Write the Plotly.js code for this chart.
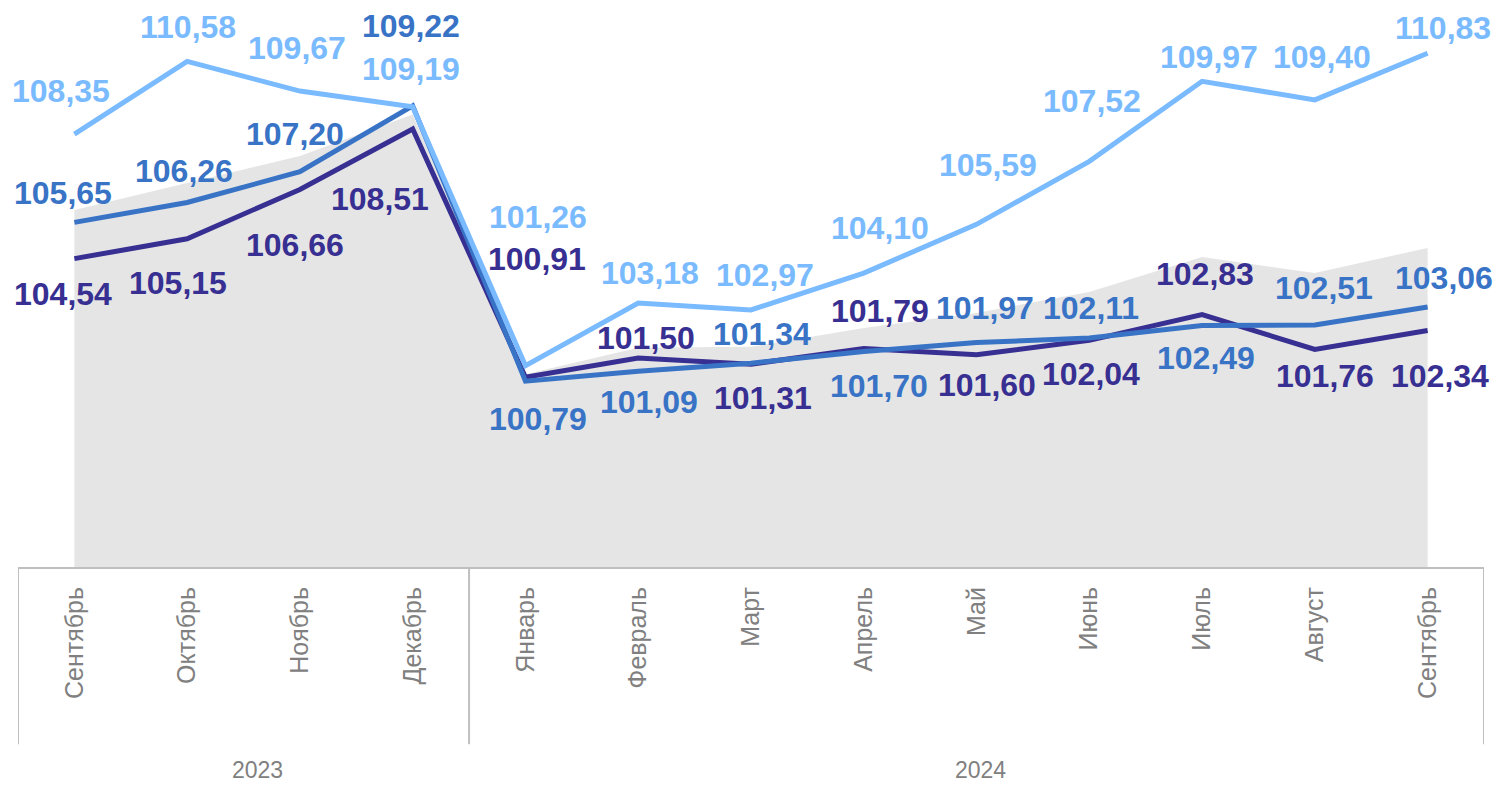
<!DOCTYPE html>
<html>
<head>
<meta charset="utf-8">
<script src="https://cdn.plot.ly/plotly-3.0.1.min.js"></script>
<style>
  html, body { margin: 0; padding: 0; background: #fff; }
  #chart { width: 1498px; height: 788px; }
</style>
</head>
<body>
<div id="chart"></div>
<script>
// ---- Data ----
const months = ["Сентябрь", "Октябрь", "Ноябрь", "Декабрь", "Январь", "Февраль", "Март",
                "Апрель", "Май", "Июнь", "Июль", "Август", "Сентябрь"];
const years = ["2023", "2024"];
const yearGroups = [[0, 3], [4, 12]];   // first / last month index for each year

const seriesLight  = [108.35, 110.58, 109.67, 109.19, 101.26, 103.18, 102.97, 104.10, 105.59, 107.52, 109.97, 109.40, 110.83];
const seriesMedium = [105.65, 106.26, 107.20, 109.22, 100.79, 101.09, 101.34, 101.70, 101.97, 102.11, 102.49, 102.51, 103.06];
const seriesDark   = [104.54, 105.15, 106.66, 108.51, 100.91, 101.50, 101.31, 101.79, 101.60, 102.04, 102.83, 101.76, 102.34];
const seriesArea   = [106.03, 106.85, 107.68, 108.95, 101.00, 101.81, 101.84, 102.42, 102.88, 103.52, 104.59, 104.10, 104.87];

// ---- Styling (label offsets in px: [xshift, yshift]) ----
const COL_LIGHT = "#7ABAFF", COL_MED = "#3873C6", COL_DARK = "#372F91", COL_AREA = "#E5E5E5";
const offLight = [[-13,43],[1,34],[-3,43],[-2,38],[13,149],[12,30],[14,35],[16,45],[11,59],[3,60],[7,24],[7,43],[15,25]];
const offMed   = [[-11,29],[-3,31],[-5,38],[-2,80],[13,-38],[11,-31],[11,29],[15,-35],[8,35],[2,30],[4,-32],[9,37],[16,29]];
const offDark  = [[-11,-35],[-9,-44],[-5,-56],[-33,-70],[12,118],[8,20],[12,-34],[16,37],[10,-30],[2,-34],[3,41],[10,-27],[12,-45]];

const idx = months.map((_, i) => i);
const fmt = v => v.toFixed(2).replace(".", ",");

const traces = [
  { x: idx, y: seriesArea, type: "scatter", mode: "lines", fill: "tozeroy",
    fillcolor: COL_AREA, line: { width: 0, color: COL_AREA }, hoverinfo: "skip" },
  { x: idx, y: seriesDark, type: "scatter", mode: "lines", line: { color: COL_DARK, width: 5 } },
  { x: idx, y: seriesMedium, type: "scatter", mode: "lines", line: { color: COL_MED, width: 5 } },
  { x: idx, y: seriesLight, type: "scatter", mode: "lines", line: { color: COL_LIGHT, width: 5 } }
];

const labelFont = (c) => ({ family: "Liberation Sans, Arial, sans-serif", size: 32, color: c, weight: "bold" });
const annotations = [];
function addLabels(vals, offs, color) {
  vals.forEach((v, i) => {
    annotations.push({
      x: i, y: v, xref: "x", yref: "y", text: "<b>" + fmt(v) + "</b>", showarrow: false,
      xanchor: "center", yanchor: "middle", xshift: offs[i][0], yshift: offs[i][1],
      font: labelFont(color)
    });
  });
}
addLabels(seriesLight, offLight, COL_LIGHT);
addLabels(seriesMedium, offMed, COL_MED);
addLabels(seriesDark, offDark, COL_DARK);

years.forEach((yr, k) => {
  annotations.push({
    x: (yearGroups[k][0] + yearGroups[k][1]) / 2, y: -0.368, xref: "x", yref: "paper",
    text: yr, showarrow: false, xanchor: "center", yanchor: "middle", xshift: k === 0 ? 14 : 4,
    font: { family: "Liberation Sans, Arial, sans-serif", size: 23, color: "#808080" }
  });
});

const shapes = [];
const dividers = [-0.5, yearGroups[0][1] + 0.5, months.length - 0.5];
dividers.forEach(xv => {
  shapes.push({ type: "line", xref: "x", yref: "paper", x0: xv, x1: xv, y0: 0, y1: -0.321,
                line: { color: "#BFBFBF", width: 2 } });
});

const layout = {
  width: 1498, height: 788,
  margin: { l: 17.6, r: 13.6, t: 14.5, b: 220.5 },
  paper_bgcolor: "#fff", plot_bgcolor: "#fff",
  showlegend: false,
  xaxis: {
    range: [-0.5, months.length - 0.5], tickmode: "array", tickvals: idx, ticktext: months,
    tickangle: -90, ticks: "", showgrid: false, zeroline: false,
    showline: true, linecolor: "#BFBFBF", linewidth: 2,
    ticklabelstandoff: 8,
    tickfont: { family: "Liberation Sans, Arial, sans-serif", size: 25, color: "#808080" }
  },
  yaxis: { range: [95.1, 112], visible: false, showgrid: false, zeroline: false, fixedrange: true },
  annotations: annotations,
  shapes: shapes
};

Plotly.newPlot("chart", traces, layout, { displayModeBar: false, staticPlot: true });
</script>
</body>
</html>
